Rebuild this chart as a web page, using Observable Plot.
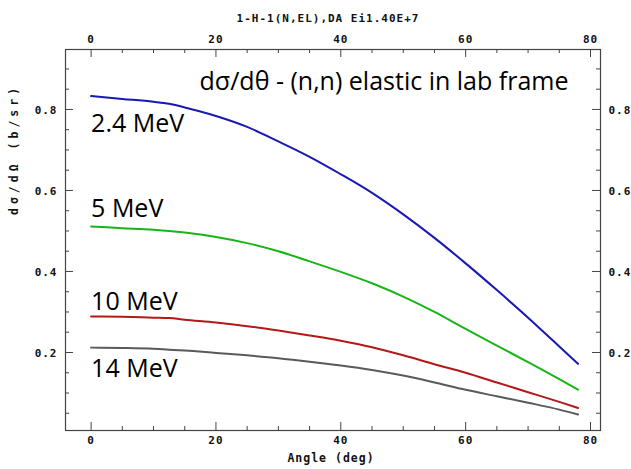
<!DOCTYPE html>
<html>
<head>
<meta charset="utf-8">
<script src="https://cdn.jsdelivr.net/npm/d3@7"></script>
<script src="https://cdn.jsdelivr.net/npm/@observablehq/plot@0.6"></script>
<style>
  body { margin: 0; background: #fff; }
  #chart svg { display: block; }
</style>
</head>
<body>
<div id="chart"></div>
<script>
// Lab-frame angles (deg) at which the cross sections are sampled
const angles = [0, 5, 10, 12.5, 15, 20, 25, 30, 35, 40, 45, 50, 55, 60, 65, 70, 75, 78];

// dσ/dΩ (b/sr) for each incident neutron energy
const xs2p4 = [0.833, 0.826, 0.819, 0.814, 0.805, 0.784, 0.757, 0.721, 0.683, 0.640, 0.594, 0.541, 0.483, 0.420, 0.354, 0.286, 0.215, 0.172];
const xs5   = [0.511, 0.507, 0.503, 0.500, 0.496, 0.485, 0.470, 0.450, 0.425, 0.399, 0.371, 0.338, 0.300, 0.258, 0.217, 0.176, 0.134, 0.108];
const xs10  = [0.289, 0.288, 0.286, 0.285, 0.281, 0.274, 0.265, 0.254, 0.242, 0.229, 0.213, 0.193, 0.171, 0.150, 0.126, 0.102, 0.078, 0.063];
const xs14  = [0.212, 0.211, 0.209, 0.207, 0.205, 0.199, 0.193, 0.186, 0.177, 0.168, 0.157, 0.143, 0.126, 0.108, 0.092, 0.076, 0.059, 0.047];

const energies = ["2.4 MeV", "5 MeV", "10 MeV", "14 MeV"];
const seriesValues = [xs2p4, xs5, xs10, xs14];
const seriesColors = ["#1818b4", "#18b418", "#b41818", "#5a5a5a"];
// vertical position (b/sr) of each energy label
const labelAt = [0.764, 0.554, 0.324, 0.159];

// Axis ticks
const xMajor = [0, 20, 40, 60, 80];
const xMinor = [5, 10, 15, 25, 30, 35, 45, 50, 55, 65, 70, 75];
const yMajor = [0.2, 0.4, 0.6, 0.8];
const yMinor = [0.05, 0.1, 0.15, 0.25, 0.3, 0.35, 0.45, 0.5, 0.55, 0.65, 0.7, 0.75, 0.85, 0.9];

const plotTitle = "1-H-1(N,EL),DA Ei1.40E+7";
const xLabel = "Angle (deg)";
const yLabel = "dσ/dΩ (b/sr)";
const note = "dσ/dθ - (n,n) elastic in lab frame";

// Long table built from the series above
const rows = energies.flatMap((e, i) =>
  angles.map((a, j) => ({energy: e, angle: a, value: seriesValues[i][j]}))
);
const labels = energies.map((e, i) => ({energy: e, y: labelAt[i]}));

const W = 631, H = 469;
const mTop = 49, mBottom = 39, mLeft = 65, mRight = 31;
const frameH = H - mTop - mBottom;
const frameW = W - mLeft - mRight;

const axisFont = "'DejaVu Sans Mono', monospace";
const tickText = {fontFamily: axisFont, fontWeight: "bold", fontSize: 11, fill: "#111"};
const frameColor = "#444";
const noteFont = {fontFamily: "'Open Sans', sans-serif", fontSize: 25, fill: "#000"};

const chart = Plot.plot({
  width: W,
  height: H,
  marginTop: mTop,
  marginBottom: mBottom,
  marginLeft: mLeft,
  marginRight: mRight,
  x: {domain: [-4.1, 81.6], axis: null},
  y: {domain: [0.0074, 0.948], axis: null},
  color: {domain: energies, range: seriesColors},
  style: {background: "#fff"},
  marks: [
    // inward tick marks on all four sides
    Plot.ruleX(xMajor, {x: d => d, insetTop: frameH - 8, stroke: frameColor}),
    Plot.ruleX(xMinor, {x: d => d, insetTop: frameH - 4, stroke: frameColor}),
    Plot.ruleX(xMajor, {x: d => d, insetBottom: frameH - 8, stroke: frameColor}),
    Plot.ruleX(xMinor, {x: d => d, insetBottom: frameH - 4, stroke: frameColor}),
    Plot.ruleY(yMajor, {y: d => d, insetRight: frameW - 8, stroke: frameColor}),
    Plot.ruleY(yMinor, {y: d => d, insetRight: frameW - 4, stroke: frameColor}),
    Plot.ruleY(yMajor, {y: d => d, insetLeft: frameW - 8, stroke: frameColor}),
    Plot.ruleY(yMinor, {y: d => d, insetLeft: frameW - 4, stroke: frameColor}),
    Plot.frame({stroke: frameColor, strokeWidth: 1.2}),

    // tick labels
    Plot.text(xMajor, {x: d => d, text: d => String(d), frameAnchor: "bottom", lineAnchor: "top", dy: 6, ...tickText}),
    Plot.text(xMajor, {x: d => d, text: d => String(d), frameAnchor: "top", lineAnchor: "top", dy: -14, ...tickText}),
    Plot.text(yMajor, {y: d => d, text: d => d.toFixed(1), frameAnchor: "left", textAnchor: "end", dx: -8, dy: 1, ...tickText}),
    Plot.text(yMajor, {y: d => d, text: d => d.toFixed(1), frameAnchor: "right", textAnchor: "start", dx: 8, dy: 1, ...tickText}),

    // axis titles and plot title
    Plot.text([xLabel], {text: d => d, frameAnchor: "bottom", lineAnchor: "top", dy: 23, dx: -2, ...tickText, fontSize: 11.5}),
    Plot.text([yLabel], {text: d => d, frameAnchor: "left", rotate: -90, dx: -51, dy: -25, ...tickText, fontSize: 11.5}),
    Plot.text([plotTitle], {text: d => d, frameAnchor: "top", dy: -35, dx: -5, ...tickText}),

    // cross-section curves
    Plot.line(rows, {x: "angle", y: "value", stroke: "energy", strokeWidth: 2, curve: "monotone-x"}),

    // annotations
    Plot.text(labels, {x: 0, y: "y", text: "energy", textAnchor: "start", ...noteFont}),
    Plot.text([note], {text: d => d, frameAnchor: "top-right", textAnchor: "end", lineAnchor: "top", dx: -32, dy: 23, ...noteFont})
  ]
});

// the plotter-style lettering is widely spaced
d3.select(chart).selectAll("text")
  .filter(function () { return (this.getAttribute("font-family") || this.parentNode.getAttribute("font-family") || "").includes("DejaVu"); })
  .style("letter-spacing", "1px");
d3.select(chart).selectAll("text")
  .filter(function () { return this.textContent === yLabel; })
  .style("letter-spacing", "4px");

document.getElementById("chart").appendChild(chart);
</script>
</body>
</html>
